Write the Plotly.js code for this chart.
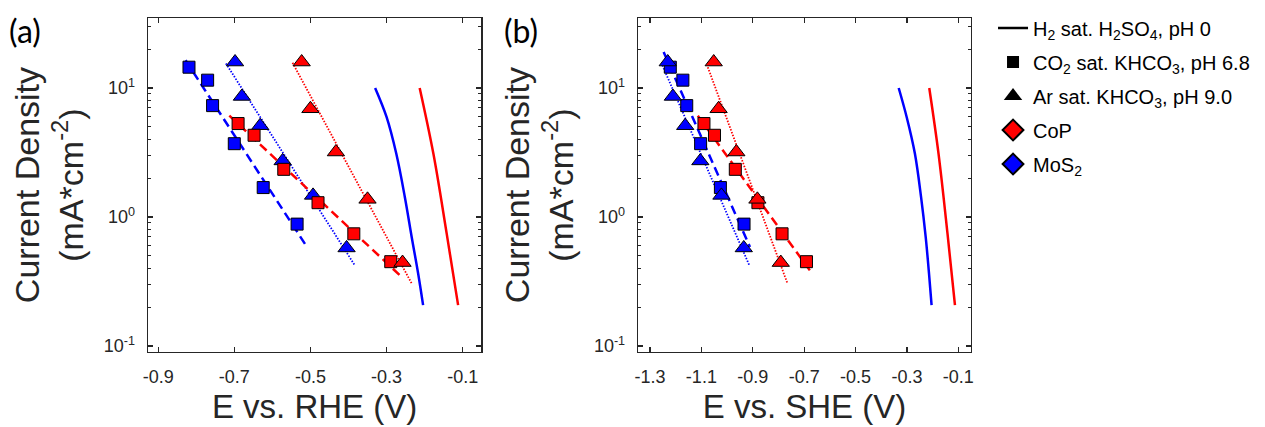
<!DOCTYPE html>
<html>
<head>
<meta charset="utf-8">
<script src="https://cdn.plot.ly/plotly-3.0.1.min.js"></script>
<style>html,body{margin:0;padding:0;background:#fff;}#chart{width:1265px;height:427px;}</style>
</head>
<body>
<div id="chart"></div>
<script>
// ---------- Data ----------
// Panel (a): E vs. RHE (V)
const rhe_mos2_co2_x = [-0.819, -0.770, -0.757, -0.700, -0.624, -0.535];
const rhe_mos2_ar_x  = [-0.698, -0.680, -0.632, -0.573, -0.493, -0.405];
const rhe_cop_co2_x  = [-0.690, -0.648, -0.570, -0.480, -0.386, -0.289];
const rhe_cop_ar_x   = [-0.523, -0.500, -0.433, -0.350, -0.258];

// Panel (b): E vs. SHE (V)
const she_mos2_co2_x = [-1.221, -1.172, -1.157, -1.103, -1.026, -0.934];
const she_mos2_ar_x  = [-1.231, -1.211, -1.163, -1.104, -1.022, -0.935];
const she_cop_co2_x  = [-1.090, -1.049, -0.968, -0.880, -0.786, -0.691];
const she_cop_ar_x   = [-1.052, -1.033, -0.964, -0.882, -0.791];

// Current densities (mA/cm^2), same in both panels
const mos2_co2_j = [14.5, 11.5, 7.3, 3.7, 1.69, 0.88];
const mos2_ar_j  = [15.9, 8.6, 5.1, 2.72, 1.47, 0.575];
const cop_co2_j  = [5.3, 4.3, 2.34, 1.29, 0.74, 0.45];
const cop_ar_j   = [15.9, 6.9, 3.19, 1.37, 0.443];

// Tafel fit lines (end points)
const rhe_fit_mos2_co2_x = [-0.828, -0.513], fit_mos2_co2_j_a = [16.4, 0.61];
const rhe_fit_mos2_ar_x  = [-0.722, -0.383], fit_mos2_ar_j_a  = [15.5, 0.42];
const rhe_fit_cop_co2_x  = [-0.713, -0.265], fit_cop_co2_j_a  = [6.1, 0.353];
const rhe_fit_cop_ar_x   = [-0.547, -0.234], fit_cop_ar_j_a   = [15.7, 0.305];

const she_fit_mos2_co2_x = [-1.247, -0.911], fit_mos2_co2_j_b = [19.0, 0.585];
const she_fit_mos2_ar_x  = [-1.252, -0.912], fit_mos2_ar_j_b  = [15.0, 0.415];
const she_fit_cop_co2_x  = [-1.114, -0.669], fit_cop_co2_j_b  = [6.1, 0.364];
const she_fit_cop_ar_x   = [-1.075, -0.765], fit_cop_ar_j_b   = [14.5, 0.305];

// H2 sat. H2SO4, pH 0 polarization curves
const rhe_mos2_h2so4_x = [-0.330, -0.300, -0.2745, -0.252, -0.234, -0.217, -0.204];
const she_mos2_h2so4_x = [-0.332, -0.301, -0.269, -0.245, -0.227, -0.214, -0.204];
const mos2_h2so4_j     = [10.0, 5.96, 3.10, 1.43, 0.70, 0.364, 0.207];
const rhe_cop_h2so4_x  = [-0.213, -0.177, -0.142, -0.112];
const she_cop_h2so4_x  = [-0.213, -0.177, -0.142, -0.113];
const cop_h2so4_j      = [10.0, 3.10, 0.743, 0.207];

// Tick labels
const yTickVals = [0.1, 1, 10];
const yTickText = ['10<sup>-1</sup>', '10<sup>0</sup>', '10<sup>1</sup>'];
const yMinorVals = [0.2,0.3,0.4,0.5,0.6,0.7,0.8,0.9,2,3,4,5,6,7,8,9,20,30];
const xTickA = [-0.9, -0.7, -0.5, -0.3, -0.1];
const xTickB = [-1.3, -1.1, -0.9, -0.7, -0.5, -0.3, -0.1];

const legendNames = [
  'H<sub>2</sub> sat. H<sub>2</sub>SO<sub>4</sub>, pH 0',
  'CO<sub>2</sub> sat. KHCO<sub>3</sub>, pH 6.8',
  'Ar sat. KHCO<sub>3</sub>, pH 9.0',
  'CoP',
  'MoS<sub>2</sub>'
];

// ---------- Styles ----------
const RED = '#FF0000', BLUE = '#0000FF';
const FONT = 'Liberation Sans, Arial, sans-serif';

function line(x, y, color, dash, width, xa, ya, shape) {
  return {x: x, y: y, type: 'scatter', mode: 'lines', showlegend: false, hoverinfo: 'skip',
          line: {color: color, dash: dash, width: width, shape: shape || 'linear', smoothing: 1},
          xaxis: xa, yaxis: ya};
}
function pts(x, y, color, symbol, size, xa, ya) {
  return {x: x, y: y, type: 'scatter', mode: 'markers', showlegend: false,
          marker: {color: color, symbol: symbol, size: size, line: {color: '#000', width: 1}},
          xaxis: xa, yaxis: ya};
}

const DASH = '9px,5px', DOT = '1.5px,1.5px';
const SQ = 12, TRI = 15;

const traces = [];
function panel(xa, ya, d) {
  traces.push(line(d.fitMC[0], d.fitMC[1], BLUE, DASH, 2.5, xa, ya));
  traces.push(line(d.fitMA[0], d.fitMA[1], BLUE, DOT, 1.8, xa, ya));
  traces.push(line(d.fitCC[0], d.fitCC[1], RED, DASH, 2.5, xa, ya));
  traces.push(line(d.fitCA[0], d.fitCA[1], RED, DOT, 1.8, xa, ya));
  traces.push(line(d.hM[0], d.hM[1], BLUE, 'solid', 2.5, xa, ya, 'spline'));
  traces.push(line(d.hC[0], d.hC[1], RED, 'solid', 2.5, xa, ya, 'spline'));
  traces.push(pts(d.MC[0], d.MC[1], BLUE, 'square', SQ, xa, ya));
  traces.push(pts(d.MA[0], d.MA[1], BLUE, 'triangle-up', TRI, xa, ya));
  traces.push(pts(d.CC[0], d.CC[1], RED, 'square', SQ, xa, ya));
  traces.push(pts(d.CA[0], d.CA[1], RED, 'triangle-up', TRI, xa, ya));
}
panel('x', 'y', {
  fitMC: [rhe_fit_mos2_co2_x, fit_mos2_co2_j_a], fitMA: [rhe_fit_mos2_ar_x, fit_mos2_ar_j_a],
  fitCC: [rhe_fit_cop_co2_x, fit_cop_co2_j_a], fitCA: [rhe_fit_cop_ar_x, fit_cop_ar_j_a],
  hM: [rhe_mos2_h2so4_x, mos2_h2so4_j], hC: [rhe_cop_h2so4_x, cop_h2so4_j],
  MC: [rhe_mos2_co2_x, mos2_co2_j], MA: [rhe_mos2_ar_x, mos2_ar_j],
  CC: [rhe_cop_co2_x, cop_co2_j], CA: [rhe_cop_ar_x, cop_ar_j]
});
panel('x2', 'y2', {
  fitMC: [she_fit_mos2_co2_x, fit_mos2_co2_j_b], fitMA: [she_fit_mos2_ar_x, fit_mos2_ar_j_b],
  fitCC: [she_fit_cop_co2_x, fit_cop_co2_j_b], fitCA: [she_fit_cop_ar_x, fit_cop_ar_j_b],
  hM: [she_mos2_h2so4_x, mos2_h2so4_j], hC: [she_cop_h2so4_x, cop_h2so4_j],
  MC: [she_mos2_co2_x, mos2_co2_j], MA: [she_mos2_ar_x, mos2_ar_j],
  CC: [she_cop_co2_x, cop_co2_j], CA: [she_cop_ar_x, cop_ar_j]
});

// Legend entries
const legendSpecs = [
  {mode: 'lines', line: {color: '#000', width: 2.5}},
  {mode: 'markers', marker: {color: '#000', symbol: 'square', size: 12}},
  {mode: 'markers', marker: {color: '#000', symbol: 'triangle-up', size: 16}},
  {mode: 'markers', marker: {color: RED, symbol: 'diamond', size: 17, line: {color: '#000', width: 2}}},
  {mode: 'markers', marker: {color: BLUE, symbol: 'diamond', size: 17, line: {color: '#000', width: 2}}}
];
legendSpecs.forEach((s, i) => {
  traces.push(Object.assign({x: [null], y: [null], type: 'scatter', name: legendNames[i],
    showlegend: true, legendgroup: 'g' + i, xaxis: 'x', yaxis: 'y'}, s));
});

const AXC = '#262626';
function xaxis(domain, range, ticks, anchor) {
  return {domain: domain, range: range, anchor: anchor, tickvals: ticks,
    ticktext: ticks.map(v => v.toFixed(1)),
    ticks: 'inside', ticklen: 5, tickwidth: 1.3, tickcolor: AXC, mirror: 'allticks',
    showline: true, linecolor: AXC, linewidth: 1.6, showgrid: false, zeroline: false,
    tickfont: {family: FONT, size: 18, color: AXC}, ticklabelstandoff: 8,
    title: {text: '', font: {family: FONT, size: 33, color: AXC}, standoff: 9}};
}
function yaxis(anchor) {
  return {domain: [0.1763, 0.957], type: 'log', range: [-1.045, 1.54], anchor: anchor,
    tickvals: yTickVals, ticktext: yTickText,
    ticks: 'inside', ticklen: 5, tickwidth: 1.3, tickcolor: AXC, mirror: 'allticks',
    minor: {tickvals: yMinorVals, ticks: 'inside', ticklen: 3, tickcolor: AXC, tickwidth: 1},
    showline: true, linecolor: AXC, linewidth: 1.6, showgrid: false, zeroline: false,
    tickfont: {family: FONT, size: 18, color: AXC}, ticklabelstandoff: 8,
    title: {text: 'Current Density<br>(mA*cm<sup>-2</sup>)', font: {family: FONT, size: 34, color: AXC}, standoff: 10}};
}

const xa = xaxis([0.1172, 0.3802], [-0.926, -0.052], xTickA, 'y');
xa.title.text = 'E vs. RHE (V)';
const xb = xaxis([0.5046, 0.7673], [-1.3455, -0.052], xTickB, 'y2');
xb.title.text = 'E vs. SHE (V)';

const layout = {
  width: 1265, height: 427,
  margin: {l: 0, r: 0, t: 0, b: 0},
  paper_bgcolor: '#fff', plot_bgcolor: '#fff',
  font: {family: FONT, color: '#000'},
  xaxis: xa, xaxis2: xb,
  yaxis: yaxis('x'), yaxis2: yaxis('x2'),
  showlegend: true,
  legend: {x: 0.785, xanchor: 'left', y: 0.98, yanchor: 'top', traceorder: 'grouped',
    tracegroupgap: 5, font: {family: FONT, size: 20, color: '#000'},
    bgcolor: 'rgba(0,0,0,0)', itemwidth: 30, itemsizing: 'trace'},
  annotations: [
    {text: '(a)', xref: 'paper', yref: 'paper', x: 7/1265, y: 1 - 31/427, xanchor: 'left', yanchor: 'middle',
     showarrow: false, font: {family: 'Lato, Open Sans, sans-serif', size: 32, color: '#000'}},
    {text: '(b)', xref: 'paper', yref: 'paper', x: 502/1265, y: 1 - 31/427, xanchor: 'left', yanchor: 'middle',
     showarrow: false, font: {family: 'Lato, Open Sans, sans-serif', size: 32, color: '#000'}}
  ]
};

Plotly.newPlot('chart', traces, layout, {staticPlot: true, displayModeBar: false});
</script>
</body>
</html>
